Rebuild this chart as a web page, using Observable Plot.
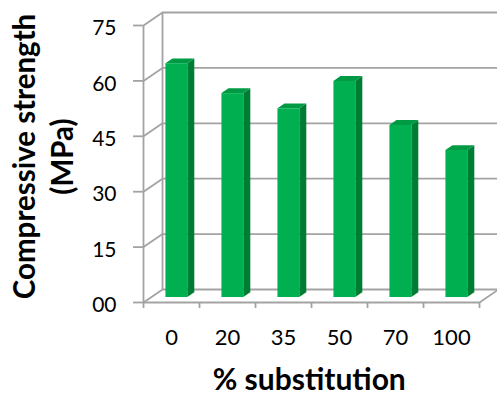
<!DOCTYPE html>
<html>
<head>
<meta charset="utf-8">
<script src="https://cdn.jsdelivr.net/npm/d3@7"></script>
<script src="https://cdn.jsdelivr.net/npm/@observablehq/plot@0.6"></script>
<style>
  html, body { margin: 0; padding: 0; background: #fff; }
  #chart svg { display: block; }
</style>
</head>
<body>
<div id="chart"></div>
<script>
// Compressive strength by % substitution
const categories = ["0", "20", "35", "50", "70", "100"];
const strength = [63.3, 55.2, 51.1, 58.5, 46.6, 39.8];
const yTicks = [0, 15, 30, 45, 60, 75];
const yTickLabels = ["00", "15", "30", "45", "60", "75"];

// Oblique projection of the depth axis (depth 0 = front plane, 1 = back wall)
const KX = 19 / 56;      // x units per unit of depth
const KY = 13 / 3.693;   // y units per unit of depth
const Z0 = 0.385, Z1 = 0.755;   // bar front / back depth
const BL = 0.27, BR = 0.66;     // bar left / right within a category slot

const bars = categories.map((c, i) => ({ c, i, v: strength[i] }));

const sides = bars.flatMap(d => [
  { c: d.c, x: d.i + BR + Z0 * KX, y1: Z0 * KY, y2: d.v + Z0 * KY },
  { c: d.c, x: d.i + BR + Z1 * KX, y1: Z1 * KY, y2: d.v + Z1 * KY }
]);
const tops = bars.flatMap(d => [
  { c: d.c, y: d.v + Z0 * KY, x1: d.i + BL + Z0 * KX, x2: d.i + BR + Z0 * KX },
  { c: d.c, y: d.v + Z1 * KY, x1: d.i + BL + Z1 * KX, x2: d.i + BR + Z1 * KX }
]);

const grid = "#a3a3a3";
const gw = 1.8;
const n = categories.length;
const k = v => () => v;   // constant channel accessor

const chart = Plot.plot({
  width: 497,
  height: 396,
  margin: 0,
  x: { type: "linear", domain: [0, n], range: [143, 479] },
  y: { type: "linear", domain: [0, 75], range: [302, 25] },
  style: { fontFamily: "Lato, 'Open Sans', sans-serif", color: "#000" },
  marks: [
    // back wall gridlines
    Plot.ruleY(yTicks, { y: d => d + KY, x1: k(KX), x2: k(n + KX), stroke: grid, strokeWidth: gw }),
    // back wall left edge
    Plot.ruleX([KX], { x: d => d, y1: k(KY), y2: k(75 + KY), stroke: grid, strokeWidth: gw }),
    // side wall gridlines
    Plot.link(yTicks, { x1: k(0), y1: d => d, x2: k(KX), y2: d => d + KY, stroke: grid, strokeWidth: gw }),
    // floor edges
    Plot.ruleY([0], { y: d => d, x1: k(0), x2: k(n), stroke: grid, strokeWidth: gw }),
    Plot.link([0], { x1: k(n), y1: k(0), x2: k(n + KX), y2: k(KY), stroke: grid, strokeWidth: gw }),
    // value axis
    Plot.ruleX([0], { x: d => d, y1: k(0), y2: k(75), stroke: grid, strokeWidth: gw }),
    Plot.ruleY(yTicks, { y: d => d, x1: k(-10 / 56), x2: k(0), stroke: grid, strokeWidth: gw }),
    // category ticks
    Plot.ruleX(d3.range(n + 1), { x: d => d, y1: k(0), y2: k(-6 / 3.693), stroke: grid, strokeWidth: gw }),

    // bars: side, top, front faces
    Plot.areaY(sides, { x: "x", y1: "y1", y2: "y2", z: "c", fill: "#007d34", curve: "linear" }),
    Plot.areaX(tops, { y: "y", x1: "x1", x2: "x2", z: "c", fill: "#009a45", curve: "linear" }),
    Plot.rect(bars, {
      x1: d => d.i + BL + Z0 * KX, x2: d => d.i + BR + Z0 * KX,
      y1: k(Z0 * KY), y2: d => d.v + Z0 * KY,
      fill: "#00b050", inset: 0
    }),

    // tick labels
    Plot.text(yTicks, { x: k(0), y: d => d, text: (d, i) => yTickLabels[i], textAnchor: "end", dx: -27, dy: 3, fontSize: 21 }),
    Plot.text(bars, { x: d => d.i + 0.5, y: k(0), text: "c", dy: 35, fontSize: 22 }),

    // axis titles
    Plot.text(["% substitution"], { x: k(2.96), y: k(0), dy: 77.5, lineAnchor: "middle", fontSize: 30, fontWeight: "bold" }),
    Plot.text(["Compressive strength\n(MPa)"], {
      x: k(-102 / 56), y: k(146 / 3.693), lineAnchor: "middle", rotate: -90,
      fontSize: 29.5, fontWeight: "bold", lineHeight: 1.29
    })
  ]
});

document.getElementById("chart").appendChild(chart);
</script>
</body>
</html>
